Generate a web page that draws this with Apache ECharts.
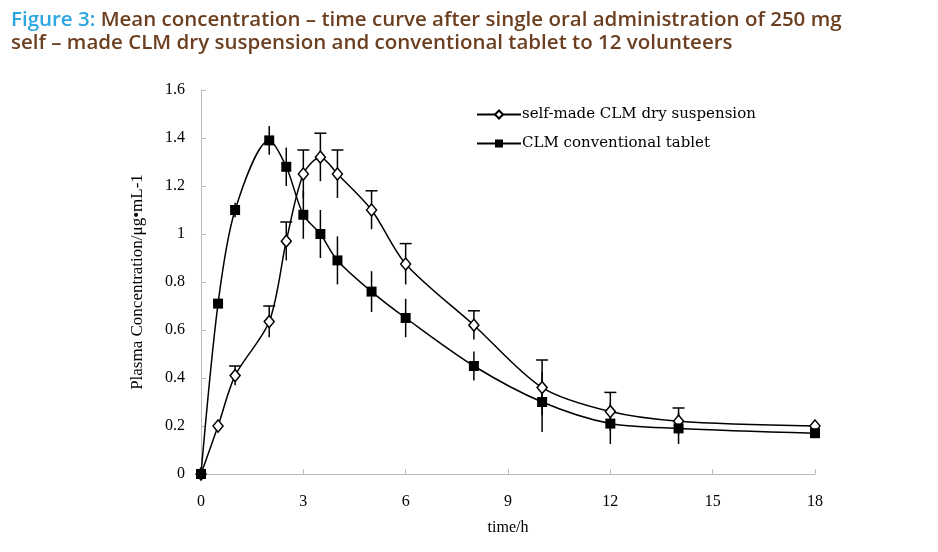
<!DOCTYPE html>
<html>
<head>
<meta charset="utf-8">
<script src="https://cdn.jsdelivr.net/npm/echarts@6/dist/echarts.min.js"></script>
<style>
html,body{margin:0;padding:0;background:#fff;}
#chart{width:938px;height:552px;}
</style>
</head>
<body>
<div id="chart"></div>
<script>
var times = [0, 0.5, 1, 2, 2.5, 3, 3.5, 4, 5, 6, 8, 10, 12, 14, 18];
var suspensionMean = [0, 0.20, 0.41, 0.635, 0.97, 1.25, 1.32, 1.25, 1.10, 0.875, 0.62, 0.36, 0.26, 0.22, 0.20];
var suspensionSD   = [0, 0, 0.04, 0.065, 0.08, 0.10, 0.10, 0.10, 0.08, 0.085, 0.06, 0.115, 0.08, 0.055, 0];
var tabletMean = [0, 0.71, 1.10, 1.39, 1.28, 1.08, 1.00, 0.89, 0.76, 0.65, 0.45, 0.30, 0.21, 0.19, 0.17];
var tabletSD   = [0, 0, 0.03, 0.06, 0.08, 0.10, 0.10, 0.10, 0.085, 0.08, 0.06, 0.125, 0.085, 0.065, 0];
var seriesNames = ['self-made CLM dry suspension', 'CLM conventional tablet'];
var xTicks = [0, 3, 6, 9, 12, 15, 18];
var yTickLabels = ['0', '0.2', '0.4', '0.6', '0.8', '1', '1.2', '1.4', '1.6'];

function pairs(xs, ys) { return xs.map(function (x, i) { return [x, ys[i]]; }); }
function errData(xs, m, sd) {
  var out = [];
  xs.forEach(function (x, i) { if (sd[i] > 0) out.push([x, m[i] - sd[i], m[i] + sd[i]]); });
  return out;
}
function errRender(withCap) {
  return function (params, api) {
    var x = api.value(0);
    var lo = api.coord([x, api.value(1)]);
    var hi = api.coord([x, api.value(2)]);
    var children = [{
      type: 'line',
      shape: { x1: lo[0], y1: lo[1], x2: hi[0], y2: hi[1] },
      style: { stroke: '#000', lineWidth: 1.5 }
    }];
    if (withCap) {
      children.push({
        type: 'line',
        shape: { x1: hi[0] - 6, y1: hi[1], x2: hi[0] + 6, y2: hi[1] },
        style: { stroke: '#000', lineWidth: 1.5 }
      });
    }
    return { type: 'group', children: children };
  };
}

var chart = echarts.init(document.getElementById('chart'), null, { renderer: 'canvas' });
var serif = '"Liberation Serif", "Times New Roman", serif';
var tfs = 20.5;
chart.setOption({
  animation: false,
  backgroundColor: '#fff',
  title: {
    left: 6, top: 4,
    text: '{b|Figure 3:} {t|Mean concentration – time curve after single oral administration of 250 mg}\n{t|self – made CLM dry suspension and conventional tablet to 12 volunteers}',
    textStyle: {
      fontFamily: '"Open Sans"', fontSize: tfs, lineHeight: 23, fontWeight: 600,
      rich: {
        b: { color: '#2aa6e0', fontFamily: '"Open Sans"', fontSize: tfs, lineHeight: 23, fontWeight: 600 },
        t: { color: '#6b3f1f', fontFamily: '"Open Sans"', fontSize: tfs, lineHeight: 23, fontWeight: 600 }
      }
    }
  },
  legend: {
    orient: 'vertical',
    left: 471, top: 102,
    itemWidth: 44, itemHeight: 10, itemGap: 14,
    data: seriesNames,
    textStyle: { fontFamily: '"DejaVu Serif"', fontSize: 15, color: '#000', padding: [0, 0, 0, -4] }
  },
  grid: { left: 201, right: 123, top: 90, bottom: 78 },
  xAxis: {
    type: 'value', min: 0, max: 18, interval: 3,
    name: 'time/h', nameLocation: 'middle', nameGap: 46,
    nameTextStyle: { fontFamily: serif, fontSize: 16, color: '#000' },
    axisLine: { lineStyle: { color: '#bbbbbb', width: 1 } },
    axisTick: { show: true, inside: true, length: 5, lineStyle: { color: '#bbbbbb' } },
    splitLine: { show: false },
    axisLabel: {
      margin: 20, fontFamily: serif, fontSize: 16, color: '#000',
      formatter: function (v) { return xTicks.indexOf(v) >= 0 ? String(v) : ''; }
    }
  },
  yAxis: {
    type: 'value', min: 0, max: 1.6, interval: 0.2,
    name: 'Plasma Concentration/μg•mL-1', nameLocation: 'middle', nameGap: 55, nameRotate: 90,
    nameTextStyle: { fontFamily: serif, fontSize: 17, color: '#000' },
    axisLine: { show: true, lineStyle: { color: '#bbbbbb', width: 1 } },
    axisTick: { show: true, inside: true, length: 5, lineStyle: { color: '#bbbbbb' } },
    splitLine: { show: false },
    axisLabel: {
      margin: 16, fontFamily: serif, fontSize: 16, color: '#000',
      formatter: function (v) { return yTickLabels[Math.round(v / 0.2)]; }
    }
  },
  series: [
    {
      type: 'custom', name: 'errS', renderItem: errRender(true),
      data: errData(times, suspensionMean, suspensionSD), z: 1, silent: true
    },
    {
      type: 'custom', name: 'errT', renderItem: errRender(false),
      data: errData(times, tabletMean, tabletSD), z: 1, silent: true
    },
    {
      name: seriesNames[0], type: 'line', smooth: 0.3,
      data: pairs(times, suspensionMean),
      symbol: 'diamond', symbolSize: [10, 12],
      lineStyle: { color: '#000', width: 1.5 },
      itemStyle: { color: '#fff', borderColor: '#000', borderWidth: 1.5 },
      z: 3
    },
    {
      name: seriesNames[1], type: 'line', smooth: 0.3,
      data: pairs(times, tabletMean),
      symbol: 'rect', symbolSize: 10,
      lineStyle: { color: '#000', width: 1.5 },
      itemStyle: { color: '#000', borderColor: '#000', borderWidth: 0 },
      z: 3
    }
  ]
});
</script>
</body>
</html>
